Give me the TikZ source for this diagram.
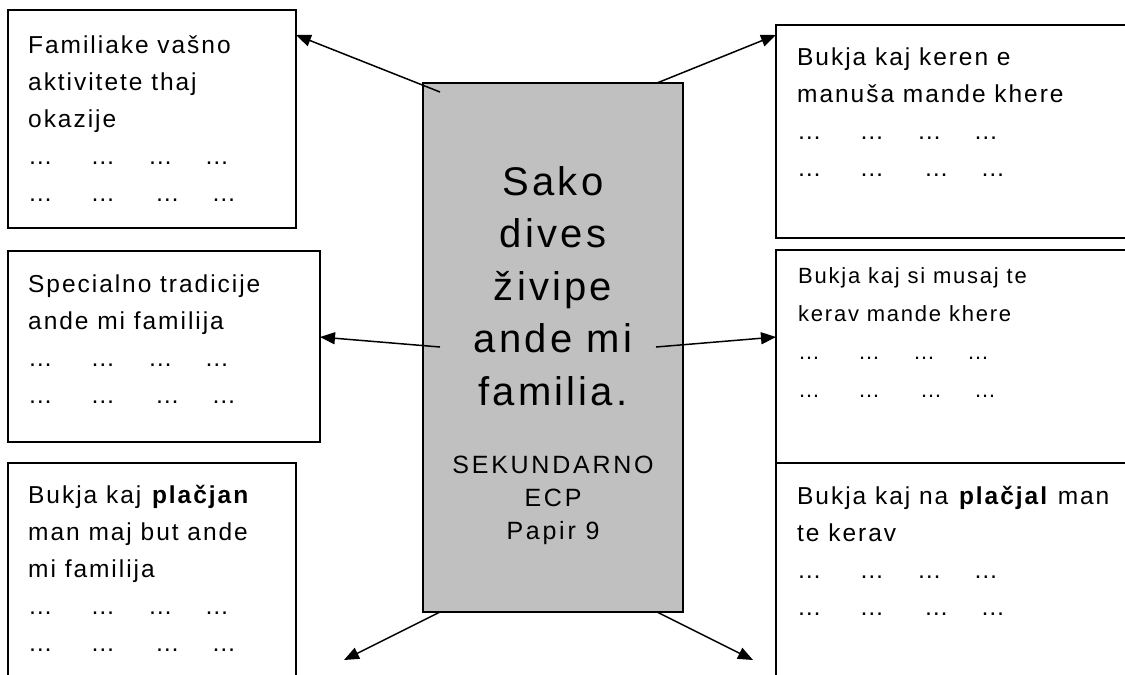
\documentclass[tikz,border=0pt]{standalone}
\usepackage{fontspec}
\setmainfont{Liberation Sans}[LetterSpace=8]
\usetikzlibrary{arrows.meta}
\definecolor{panel}{RGB}{192,192,192}
\newcommand{\dotrowA}{…\hspace{38pt}…\hspace{33pt}…\hspace{32pt}…}
\newcommand{\dotrowB}{…\hspace{38pt}…\hspace{40pt}…\hspace{32pt}…}

\begin{document}
\begin{tikzpicture}[x=1pt, y=-1pt,
	card/.style = {draw, line width=1.6pt, inner sep=0pt, outer sep=0pt, anchor=north west},
	cardtext/.style = {anchor=base west, align=left, inner sep=0pt, font=\fontsize{24.5}{37}\selectfont},
	core/.style = {draw, fill=panel, line width=1.6pt, inner sep=0pt, outer sep=0pt, minimum width=260pt, minimum height=529pt},
	link/.style = {line width=1.5pt, -{Triangle[length=15pt, width=12pt]}}]
	\useasboundingbox (0,0) rectangle (1125,675);
	\clip (0,0) rectangle (1125,675);
	% the six boxes round the middle
	\node [card, minimum width=288pt, minimum height=218pt] (acts) at (8,10) {};
	\node [card, minimum width=360pt, minimum height=213pt] (work) at (776,25) {};
	\node [card, minimum width=312pt, minimum height=191pt] (trad) at (8,251) {};
	\node [card, minimum width=360pt, minimum height=213pt] (chores) at (776,250) {};
	\node [card, minimum width=288pt, minimum height=230pt] (likes) at (8,463) {};
	\node [card, minimum width=360pt, minimum height=230pt] (dislikes) at (776,463) {};
	% texts sit on the baseline of their last line
	\node [cardtext] (actsT) at (28,201) {Familiake vašno\\aktivitete thaj\\okazije\\\dotrowA\\\dotrowB};
	\node [cardtext] (workT) at (797,176) {Bukja kaj keren e\\manuša mande khere\\\dotrowA\\\dotrowB};
	\node [cardtext] (tradT) at (28,403) {Specialno tradicije\\ande mi familija\\\dotrowA\\\dotrowB};
	\node [cardtext, font=\fontsize{22}{38}\selectfont] (choresT) at (798,397) {Bukja kaj si musaj te\\kerav mande khere\\\dotrowA\\\dotrowB};
	\node [cardtext] (likesT) at (28,651) {Bukja kaj \textbf{plačjan}\\man maj but ande\\mi familija\\\dotrowA\\\dotrowB};
	\node [cardtext] (dislikesT) at (797,615) {Bukja kaj na \textbf{plačjal} man\\te kerav\\\dotrowA\\\dotrowB};
	% middle panel
	\node [core] (topic) at (553,347.5) {};
	\node [anchor=base, align=center, inner sep=0pt, font=\fontsize{40}{52.5}\selectfont] (title) at (553,405) {Sako\\dives\\živipe\\ande mi\\familia.};
	\node [anchor=base, align=center, inner sep=0pt, font=\fontsize{25}{33}\selectfont\addfontfeature{LetterSpace=11}] (level) at (553,539) {SEKUNDARNO\\ECP\\Papir 9};
	% arrows
	\coordinate (fromA) at (440,92);
	\coordinate (fromB) at (657,83);
	\coordinate (fromC) at (440,347);
	\coordinate (fromD) at (656,347);
	\coordinate (fromE) at (440,612);
	\coordinate (fromF) at (657,612);
	\coordinate (toE) at (344,660);
	\coordinate (toF) at (753,660);
	\draw [link] (fromA) -- ([yshift=-25pt]acts.north east);
	\draw [link] (fromB) -- ([yshift=-10pt]work.north west);
	\draw [link] (fromC) -- ([yshift=-86pt]trad.north east);
	\draw [link] (fromD) -- ([yshift=-87pt]chores.north west);
	\draw [link] (fromE) -- (toE);
	\draw [link] (fromF) -- (toF);
\end{tikzpicture}
\end{document}
